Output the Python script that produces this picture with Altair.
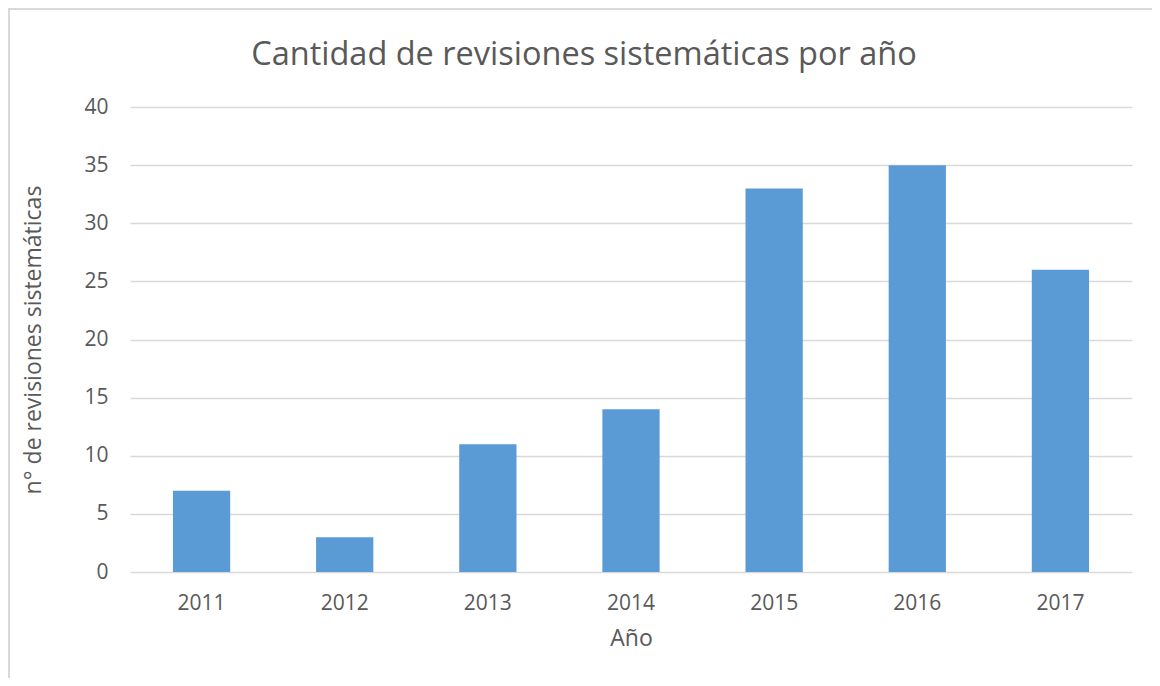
import altair as alt
import pandas as pd

years = ["2011", "2012", "2013", "2014", "2015", "2016", "2017"]
counts = [7, 3, 11, 14, 33, 35, 26]
title_text = "Cantidad de revisiones sistemáticas por año"

df = pd.DataFrame({"Año": years, "n": counts})

TXT = "#595959"
FONT = "Open Sans"

W, H = 1002, 465

bars = alt.Chart(df).mark_bar(color="#5B9BD5").encode(
    x=alt.X("Año:N", sort=years,
            scale=alt.Scale(paddingInner=0.6, paddingOuter=0.3),
            axis=alt.Axis(title="Año", labelAngle=0, labelFontSize=21, labelColor=TXT,
                          labelPadding=20, ticks=False, domain=False, grid=False,
                          titleFontSize=23, titleColor=TXT, titleFontWeight="normal",
                          titlePadding=14, labelFont=FONT, titleFont=FONT)),
    y=alt.Y("n:Q", scale=alt.Scale(domain=[0, 40]),
            axis=alt.Axis(title="n° de revisiones sistemáticas", values=[0, 5, 10, 15, 20, 25, 30, 35, 40],
                          labelFontSize=21, labelColor=TXT, labelPadding=22, ticks=False,
                          domain=False, gridColor="#D9D9D9", gridWidth=1.3,
                          titleFontSize=23, titleColor=TXT, titleFontWeight="normal",
                          titlePadding=38, labelFont=FONT, titleFont=FONT)),
)

border = alt.Chart(df).mark_rect(fill=None, stroke="#D9D9D9", strokeWidth=1.5, clip=False).encode(
    x=alt.value(-121), x2=alt.value(W + 40), y=alt.value(-98), y2=alt.value(H + 130)
)

title = alt.Chart(pd.DataFrame({"t": [title_text]})).mark_text(
    font=FONT, fontSize=32.5, color=TXT, align="center", baseline="alphabetic", clip=False
).encode(text="t:N", x=alt.value(454), y=alt.value(-42))

chart = alt.layer(border, bars, title).properties(
    width=W, height=H,
    autosize=alt.AutoSizeParams(type="none"),
    padding={"left": 122, "top": 99, "right": 20, "bottom": 106},
).configure_view(stroke=None)

chart.save("out.html", embed_options={"renderer": "svg", "actions": False})
